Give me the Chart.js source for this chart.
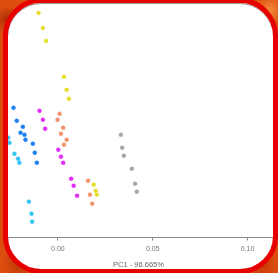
<!DOCTYPE html>
<html>
<head>
<meta charset="utf-8">
<script src="https://cdn.jsdelivr.net/npm/chart.js"></script>
<style>
  html, body { margin: 0; padding: 0; }
  body {
    width: 278px; height: 273px; overflow: hidden; position: relative;
    background:
      radial-gradient(circle at 8px 20px, #a82a05 0, rgba(168,42,5,0) 14px),
      radial-gradient(circle at 20px 262px, #b83408 0, rgba(184,52,8,0) 18px),
      radial-gradient(circle at 270px 10px, #f28a3a 0, rgba(242,138,58,0) 16px),
      radial-gradient(circle at 262px 266px, #c83c0a 0, rgba(200,60,10,0) 16px),
      #dc4e0e;
  }
  #frame {
    position: absolute; left: 3px; top: -2px; width: 275px; height: 276px;
    box-sizing: border-box; border: 5px solid #e60000; border-radius: 38px;
    background: #fff; overflow: hidden;
    box-shadow: inset 0 1px 0 #999;
  }
  #wrap { position: absolute; left: -7px; top: -3px; width: 275px; height: 273px; }
</style>
</head>
<body>
<div id="frame"><div id="wrap"><canvas id="pca"></canvas></div></div>
<script>
// PC1 / PC2 scores per group
const yellowX = [-0.0102, -0.0079, -0.0062, 0.0032, 0.0046, 0.0058, 0.0189, 0.0199, 0.0205];
const yellowY = [0.117, 0.102, 0.089, 0.053, 0.040, 0.031, -0.055, -0.061, -0.065];

const blueX = [-0.0234, -0.0217, -0.0185, -0.0197, -0.0176, -0.0171, -0.0132, -0.0122, -0.0111];
const blueY = [0.022, 0.009, 0.003, -0.003, -0.005, -0.010, -0.014, -0.023, -0.033];

const cyanX = [-0.0262, -0.0255, -0.0229, -0.0210, -0.0203, -0.0153, -0.0139, -0.0136];
const cyanY = [-0.008, -0.013, -0.024, -0.029, -0.033, -0.072, -0.084, -0.092];

const magentaX = [-0.0097, -0.0079, -0.0067, 0.0002, 0.0016, 0.0028, 0.0070, 0.0083, 0.0101];
const magentaY = [0.019, 0.010, 0.001, -0.020, -0.027, -0.033, -0.049, -0.056, -0.066];

const salmonX = [0.0009, -0.0002, 0.0028, 0.0016, 0.0046, 0.0032, 0.0159, 0.0169, 0.0181];
const salmonY = [0.016, 0.010, 0.002, -0.004, -0.010, -0.015, -0.051, -0.065, -0.074];

const grayX = [0.0332, 0.0339, 0.0348, 0.0390, 0.0407, 0.0416];
const grayY = [-0.005, -0.018, -0.026, -0.039, -0.054, -0.062];

const xTicks = [0, 0.05, 0.10];
const xTitle = 'PC1 - 96.665%';

function pts(xs, ys) {
    return xs.map((x, i) => ({ x: x, y: ys[i] }));
}

function group(label, xs, ys, color, halo) {
    return {
        label: label,
        data: pts(xs, ys),
        backgroundColor: color,
        borderColor: halo,
        borderWidth: 1,
        pointRadius: 2,
    };
}

const ctx = document.getElementById('pca').getContext('2d');
new Chart(ctx, {
    type: 'scatter',
    data: {
        datasets: [
            group('yellow', yellowX, yellowY, '#e4dd2c', 'rgba(228,221,44,0.45)'),
            group('blue', blueX, blueY, '#1a7ff0', 'rgba(26,127,240,0.45)'),
            group('cyan', cyanX, cyanY, '#35c2f4', 'rgba(53,194,244,0.45)'),
            group('magenta', magentaX, magentaY, '#e02ef0', 'rgba(224,46,240,0.45)'),
            group('salmon', salmonX, salmonY, '#f2926c', 'rgba(242,146,108,0.45)'),
            group('gray', grayX, grayY, '#a6a6a6', 'rgba(166,166,166,0.45)'),
        ]
    },
    options: {
        responsive: true,
        maintainAspectRatio: false,
        animation: false,
        layout: { autoPadding: false, padding: { top: 0, left: 0, right: 0, bottom: 4 } },
        plugins: {
            legend: { display: false },
            tooltip: { enabled: false },
        },
        scales: {
            x: {
                type: 'linear',
                min: -0.03,
                max: 0.115,
                afterBuildTicks: axis => { axis.ticks = xTicks.map(v => ({ value: v })); },
                ticks: {
                    callback: v => v.toFixed(2),
                    color: '#777',
                    font: { family: 'Liberation Sans, Arial', size: 7 },
                    padding: 4,
                    maxRotation: 0,
                },
                grid: { drawOnChartArea: false, tickLength: 3, color: '#888' },
                border: { color: '#888', width: 1 },
                title: {
                    display: true,
                    text: xTitle,
                    color: '#666',
                    font: { family: 'Liberation Sans, Arial', size: 7.5 },
                    padding: { top: 3, bottom: 0 },
                },
            },
            y: {
                type: 'linear',
                display: false,
                min: -0.108,
                max: 0.130,
            },
        },
    },
});
</script>
</body>
</html>
